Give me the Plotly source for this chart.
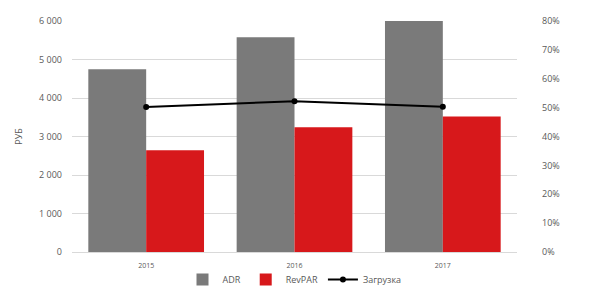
import plotly.graph_objects as go

years = ["2015", "2016", "2017"]
adr = [4750, 5580, 6000]
revpar = [2640, 3240, 3520]
load = [0.502, 0.522, 0.503]

fig = go.Figure()
fig.add_trace(go.Bar(x=years, y=adr, name="ADR", marker_color="#7a7a7a",
                     marker_line_width=0))
fig.add_trace(go.Bar(x=years, y=revpar, name="RevPAR", marker_color="#d7181b",
                     marker_line_width=0))
fig.add_trace(go.Scatter(x=years, y=load, name="Загрузка", yaxis="y2",
                         mode="lines+markers", line=dict(color="black", width=2),
                         marker=dict(color="black", size=6)))

fig.update_layout(
    width=600, height=299,
    margin=dict(l=72, r=83, t=21, b=47, autoexpand=False),
    paper_bgcolor="white", plot_bgcolor="white",
    font=dict(family="Open Sans", size=9, color="#595959"),
    barmode="group", bargap=0.22, bargroupgap=0,
    xaxis=dict(showgrid=False, tickfont=dict(size=7), ticks="",
               ticklabelstandoff=7,
               showline=True, linecolor="#d9d9d9", linewidth=1, automargin=False),
    yaxis=dict(range=[0, 6000], dtick=1000, showgrid=True, gridcolor="#d9d9d9",
               gridwidth=1, tickformat=",d", separatethousands=True,
               zeroline=False, ticks="", ticklen=0, automargin=False,
               ticklabelstandoff=9,
               title=dict(text="РУБ", font=dict(size=9), standoff=14)),
    yaxis2=dict(range=[0, 0.8], dtick=0.1, overlaying="y", side="right",
                tickformat=".0%", showgrid=False, zeroline=False, ticks="",
                ticklabelstandoff=24, automargin=False),
    separators=", ",
    legend=dict(orientation="h", x=0.5, xanchor="center",
                yref="container", y=0.065, yanchor="middle",
                bgcolor="rgba(0,0,0,0)",
                font=dict(size=9), traceorder="normal", tracegroupgap=0,
                itemwidth=30),
    showlegend=True,
)
fig.write_html("out.html")
